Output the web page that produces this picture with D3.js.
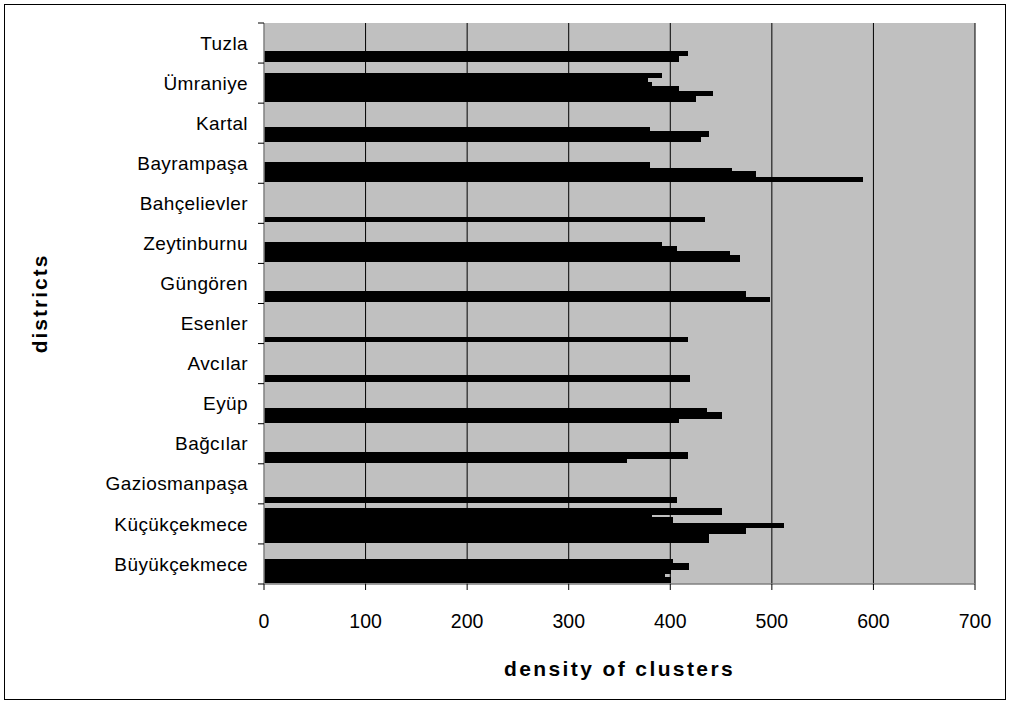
<!DOCTYPE html>
<html>
<head>
<meta charset="utf-8">
<script src="https://cdn.jsdelivr.net/npm/d3@7"></script>
<style>
  body { margin: 0; background: #fff; }
  text { font-family: "Liberation Sans", Arial, sans-serif; fill: #000; }
</style>
</head>
<body>
<div id="chart"></div>
<script>
// districts, top to bottom as in the chart
const districts = [
    "Tuzla", "Ümraniye", "Kartal", "Bayrampaşa", "Bahçelievler", "Zeytinburnu",
    "Güngören", "Esenler", "Avcılar", "Eyüp", "Bağcılar", "Gaziosmanpaşa",
    "Küçükçekmece", "Büyükçekmece"
];

// density read per thin slot, bottom slot first
const tuzla = [409, 409, 409, 417, 417, 417];
const umraniye = [425, 425, 425, 442, 442, 442, 409, 409, 409, 382, 382, 378, 378, 392, 392, 392];
const kartal = [430, 430, 430, 438, 438, 438, 380, 380];
const bayrampasa = [590, 590, 590, 484, 484, 484, 461, 461, 380, 380, 380];
const bahcelievler = [434, 434, 434];
const zeytinburnu = [469, 469, 469, 469, 459, 459, 407, 407, 407, 392, 392];
const gungoren = [498, 498, 498, 475, 475, 475];
const esenler = [417, 417, 417];
const avcilar = [419, 419, 419, 419];
const eyup = [409, 409, 451, 451, 451, 451, 436, 436];
const bagcilar = [357, 357, 417, 417, 417, 417];
const gaziosmanpasa = [407, 407, 407];
const kucukcekmece = [438, 438, 438, 438, 438, 475, 475, 475, 512, 512, 512, 403, 403, 403, 382, 451, 451, 451, 451];
const buyukcekmece = [401, 401, 401, 395, 395, 401, 401, 418, 418, 418, 418, 403, 403];

const slotValues = [
    tuzla, umraniye, kartal, bayrampasa, bahcelievler, zeytinburnu, gungoren,
    esenler, avcilar, eyup, bagcilar, gaziosmanpasa, kucukcekmece, buyukcekmece
];

const xTicks = [0, 100, 200, 300, 400, 500, 600, 700];
const slotsPerBand = 22;

const width = 1010, height = 704;
const margin = { top: 23, right: 35, bottom: 120, left: 264 };

const svg = d3.select("#chart")
    .append("svg")
    .attr("width", width)
    .attr("height", height);

svg.append("rect")
    .attr("x", 4.5).attr("y", 4.5)
    .attr("width", width - 9).attr("height", height - 9)
    .attr("fill", "#fff")
    .attr("stroke", "#000");

const x = d3.scaleLinear().domain([0, 700]).range([margin.left, width - margin.right]);
const y = d3.scaleBand().domain(districts).range([margin.top, height - margin.bottom]);
const slot = d3.scaleBand().domain(d3.range(slotsPerBand)).range([y.bandwidth(), 0]);
const barOffset = 1.2;

// plot area
svg.append("rect")
    .attr("x", x(0)).attr("y", y.range()[0])
    .attr("width", x(700) - x(0))
    .attr("height", y.range()[1] - y.range()[0])
    .attr("fill", "#c0c0c0");

// gridlines
svg.selectAll(".grid")
    .data(xTicks.slice(1))
    .enter()
    .append("line")
    .attr("x1", d => x(d)).attr("x2", d => x(d))
    .attr("y1", y.range()[0]).attr("y2", y.range()[1])
    .attr("stroke", "#000")
    .attr("stroke-width", 1);

// turn each slot list into runs of equal value
const runs = [];
districts.forEach((name, i) => {
    const vals = slotValues[i];
    let start = 0;
    for (let k = 1; k <= vals.length; k++) {
        if (k === vals.length || vals[k] !== vals[start]) {
            runs.push({ name, value: vals[start], first: start, last: k - 1 });
            start = k;
        }
    }
});

svg.selectAll(".bar")
    .data(runs)
    .enter()
    .append("rect")
    .attr("class", "bar")
    .attr("x", x(0))
    .attr("width", d => x(d.value) - x(0))
    .attr("y", d => y(d.name) + slot(d.last) - barOffset)
    .attr("height", d => slot(d.first) + slot.bandwidth() - slot(d.last))
    .attr("fill", "#000")
    .attr("shape-rendering", "crispEdges");

// axes lines
svg.append("line")
    .attr("x1", x(0)).attr("x2", x(0))
    .attr("y1", y.range()[0]).attr("y2", y.range()[1])
    .attr("stroke", "#808080").attr("stroke-width", 1.5);
svg.append("line")
    .attr("x1", x(0)).attr("x2", x(700))
    .attr("y1", y.range()[1]).attr("y2", y.range()[1])
    .attr("stroke", "#808080").attr("stroke-width", 1.5);

// y ticks at band edges
const edges = districts.map(d => y(d)).concat([y.range()[1]]);
svg.selectAll(".ytick")
    .data(edges)
    .enter()
    .append("line")
    .attr("x1", x(0) - 6).attr("x2", x(0))
    .attr("y1", d => d).attr("y2", d => d)
    .attr("stroke", "#000");

// x ticks
svg.selectAll(".xtick")
    .data(xTicks)
    .enter()
    .append("line")
    .attr("x1", d => x(d)).attr("x2", d => x(d))
    .attr("y1", y.range()[1]).attr("y2", y.range()[1] + 6)
    .attr("stroke", "#000");

svg.selectAll(".xlabel")
    .data(xTicks)
    .enter()
    .append("text")
    .attr("x", d => x(d))
    .attr("y", 628)
    .attr("text-anchor", "middle")
    .style("font-size", "19.5px")
    .text(d => d);

svg.selectAll(".ylabel")
    .data(districts)
    .enter()
    .append("text")
    .attr("x", 248)
    .attr("y", d => y(d) + y.bandwidth() / 2)
    .attr("dy", "0.35em")
    .attr("text-anchor", "end")
    .style("font-size", "19px")
    .style("letter-spacing", "0.4px")
    .text(d => d);

svg.append("text")
    .attr("x", (x(0) + x(700)) / 2)
    .attr("y", 676)
    .attr("text-anchor", "middle")
    .style("font-size", "21px")
    .style("font-weight", "bold")
    .style("letter-spacing", "2.4px")
    .text("density of clusters");

svg.append("text")
    .attr("transform", `translate(47, ${(y.range()[0] + y.range()[1]) / 2}) rotate(-90)`)
    .attr("text-anchor", "middle")
    .style("font-size", "21px")
    .style("font-weight", "bold")
    .style("letter-spacing", "2px")
    .text("districts");
</script>
</body>
</html>
